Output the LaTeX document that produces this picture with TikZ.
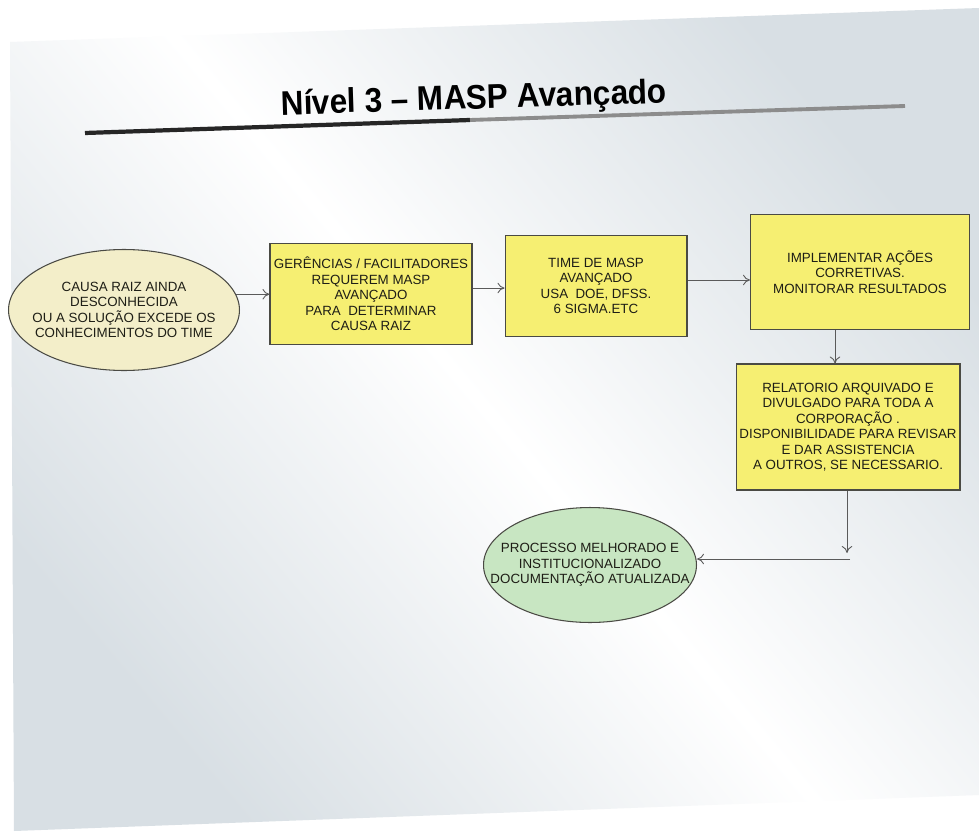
\documentclass[tikz,border=0pt]{standalone}
\usepackage{fontspec}
\setmainfont{Liberation Sans}
\usetikzlibrary{arrows.meta,shapes.geometric}

\definecolor{slidegray}{HTML}{D8DFE4}
\definecolor{boxyellow}{HTML}{F6EF72}
\definecolor{creamfill}{HTML}{F3EEC9}
\definecolor{greenfill}{HTML}{C8E6C2}
\definecolor{edgegray}{HTML}{4A4A44}
\definecolor{arrowgray}{HTML}{5A5A5A}
\definecolor{inkdark}{HTML}{1E1E16}

\tikzset{
  x=0.02cm, y=-0.02cm,
  flowtext/.style={font=\fontsize{7.6}{8.8}\selectfont, text=inkdark, align=center},
  stepbox/.style={flowtext, draw=edgegray, line width=0.6pt, fill=boxyellow, rectangle, inner sep=0pt},
  oval/.style={flowtext, draw=edgegray, line width=0.6pt, ellipse, inner xsep=-30pt, inner ysep=-10pt},
  link/.style={draw=arrowgray, line width=0.5pt, -{To[length=4pt,width=6pt]}}
}

\begin{document}
\begin{tikzpicture}
\useasboundingbox (0,0) rectangle (979,831);
% paper and slide background
\fill[white] (0,0) rectangle (979,831);
\shade[top color=slidegray, bottom color=slidegray, middle color=white, shading angle=-50]
  (10,42) -- (979,8) -- (979,795) -- (14,831) -- cycle;

% title and underline rule
\node[font=\fontsize{19.5}{22}\selectfont\bfseries, text=black, rotate=1.8, xscale=0.92] (title) at (474,100) {Nível 3 – MASP Avançado};
\draw[line width=2.4pt, black!85] (85,133) -- (470,120);
\draw[line width=2.2pt, black!45] (470,120) -- (905,106);

% flow nodes
\node[oval, fill=creamfill, minimum width=4.62cm, minimum height=2.42cm] (cause) at (124,310)
  {CAUSA RAIZ AINDA\\DESCONHECIDA\\OU A SOLUÇÃO EXCEDE OS\\CONHECIMENTOS DO TIME};
\node[stepbox, minimum width=4.04cm, minimum height=2.02cm] (mgmt) at (371,294)
  {GERÊNCIAS / FACILITADORES\\REQUEREM MASP\\AVANÇADO\\PARA \ DETERMINAR\\CAUSA RAIZ};
\node[stepbox, minimum width=3.64cm, minimum height=2.02cm] (team) at (596,286)
  {TIME DE MASP\\AVANÇADO\\USA \ DOE, DFSS.\\6 SIGMA.ETC};
\node[stepbox, minimum width=4.38cm, minimum height=2.30cm] (act) at (860,272)
  {IMPLEMENTAR AÇÕES\\CORRETIVAS.\\MONITORAR RESULTADOS};
\node[stepbox, minimum width=4.48cm, minimum height=2.52cm] (report) at (848,427)
  {RELATORIO ARQUIVADO E\\DIVULGADO PARA TODA A\\CORPORAÇÃO .\\DISPONIBILIDADE PARA REVISAR\\E DAR ASSISTENCIA\\A OUTROS, SE NECESSARIO.};
\node[oval, fill=greenfill, minimum width=4.26cm, minimum height=2.30cm] (done) at (590,565)
  {PROCESSO MELHORADO E\\INSTITUCIONALIZADO\\DOCUMENTAÇÃO ATUALIZADA};

% connectors
\draw[link] (cause.8) -- (cause.8 -| mgmt.west);
\draw[link] ([yshift=0.12cm]mgmt.east) -- ([yshift=0.12cm]mgmt.east -| team.west);
\draw[link] ([yshift=0.12cm]team.east) -- ([yshift=0.12cm]team.east -| act.west);
\draw[link] ([xshift=-0.5cm]act.south) -- ([xshift=-0.5cm]act.south |- report.north);
\coordinate (drop) at ([xshift=-0.02cm]report.south |- 0,553);
\coordinate (turn) at ([xshift=0.04cm]report.south |- 0,559);
\draw[link] ([xshift=-0.02cm]report.south) -- (drop);
\draw[link] (turn) -- (turn -| done.east);
\end{tikzpicture}
\end{document}
